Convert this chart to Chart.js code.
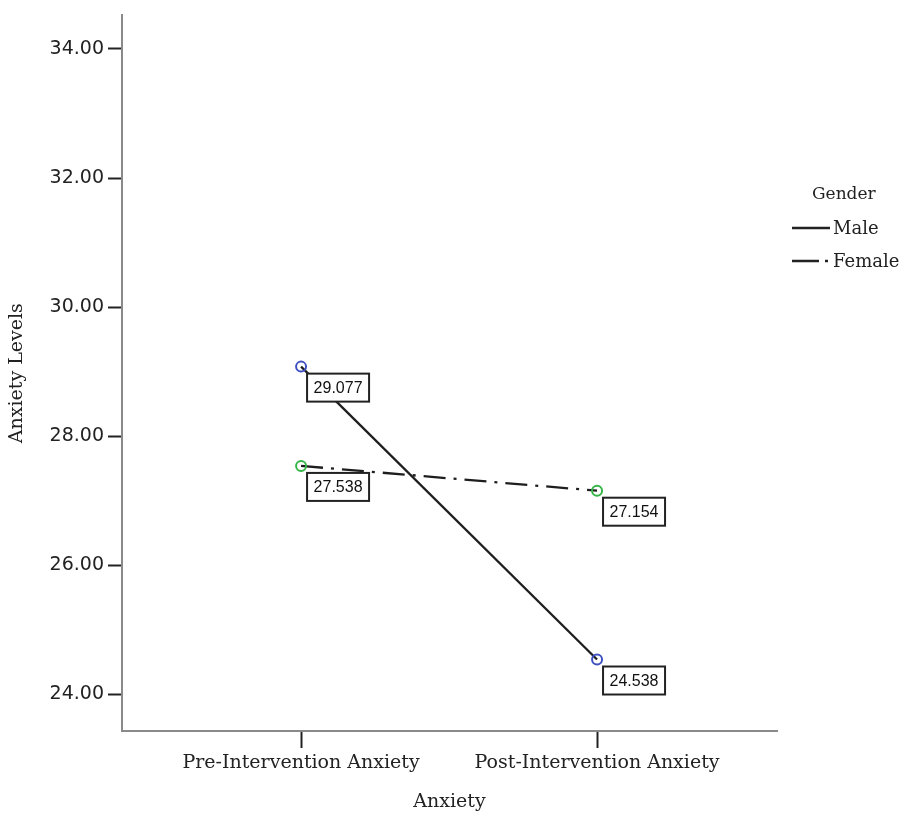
<!DOCTYPE html>
<html>
<head>
<meta charset="utf-8">
<script src="https://cdn.jsdelivr.net/npm/chart.js@4.4.1/dist/chart.umd.min.js"></script>
<style>
  body { margin: 0; background: #fff; }
  #wrap { position: relative; width: 910px; height: 817px; }
  #legend { position: absolute; left: 790px; top: 183px; font-family: 'DejaVu Serif', serif; font-size: 18px; color: #222; }
  #legend .title { margin-left: 22px; margin-bottom: 8px; font-size: 17px; }
  #legend .item { display: flex; align-items: center; height: 33px; }
  #legend svg { margin-right: 3px; }
</style>
</head>
<body>
<div id="wrap">
  <canvas id="chart" width="910" height="817"></canvas>
  <div id="legend">
    <div class="title">Gender</div>
    <div class="item"><svg width="40" height="10"><line x1="2" y1="5" x2="40" y2="5" stroke="#222" stroke-width="2.5"/></svg>Male</div>
    <div class="item"><svg width="40" height="10"><line x1="2" y1="5" x2="40" y2="5" stroke="#222" stroke-width="2.5" stroke-dasharray="27 6 3 20"/></svg>Female</div>
  </div>
</div>
<script>
// values
const categories = ['Pre-Intervention Anxiety', 'Post-Intervention Anxiety'];
const maleValues = [29.077, 24.538];
const femaleValues = [27.538, 27.154];
const yTicks = [24, 26, 28, 30, 32, 34];

// boxed value labels next to each point
const boxLabels = {
  id: 'boxLabels',
  afterDatasetsDraw(chart) {
    const ctx = chart.ctx;
    ctx.save();
    ctx.font = '16px "Liberation Sans", Arial, sans-serif';
    ctx.textAlign = 'center';
    ctx.textBaseline = 'middle';
    chart.data.datasets.forEach((ds, i) => {
      chart.getDatasetMeta(i).data.forEach((pt, j) => {
        const x = pt.x + 6, y = pt.y + 7, w = 62, h = 28;
        ctx.fillStyle = '#fff';
        ctx.fillRect(x, y, w, h);
        ctx.strokeStyle = '#222';
        ctx.lineWidth = 2;
        ctx.strokeRect(x, y, w, h);
        ctx.fillStyle = '#111';
        ctx.fillText(ds.data[j].y.toFixed(3), x + w / 2, y + h / 2 + 1);
      });
    });
    ctx.restore();
  }
};

const toPoints = vals => vals.map((v, i) => ({ x: i, y: v }));

const ctx = document.getElementById('chart').getContext('2d');
const chart = new Chart(ctx, {
  type: 'line',
  data: {
    datasets: [
      {
        label: 'Male',
        data: toPoints(maleValues),
        borderColor: '#1e1e1e',
        borderWidth: 2.3,
        pointRadius: 5,
        pointBorderWidth: 2,
        pointBorderColor: '#3f50c0',
        pointBackgroundColor: 'rgba(0,0,0,0)'
      },
      {
        label: 'Female',
        data: toPoints(femaleValues),
        borderColor: '#1e1e1e',
        borderWidth: 2.3,
        borderDash: [22, 8, 3, 8],
        pointRadius: 5,
        pointBorderWidth: 2,
        pointBorderColor: '#35b548',
        pointBackgroundColor: 'rgba(0,0,0,0)'
      }
    ]
  },
  options: {
    responsive: false,
    animation: false,
    layout: { padding: { left: 0, right: 133, top: 10, bottom: 0 } },
    plugins: {
      legend: { display: false },
      tooltip: { enabled: false }
    },
    scales: {
      x: {
        type: 'linear',
        min: -0.605,
        max: 1.608,
        grid: { display: true, drawOnChartArea: false, drawTicks: true, tickLength: 17, tickWidth: 2, tickColor: '#222' },
        border: { display: true, color: '#8a8a8a', width: 2 },
        afterBuildTicks(scale) { scale.ticks = categories.map((c, i) => ({ value: i })); },
        ticks: {
          color: '#222', padding: 4, maxRotation: 0,
          font: { family: "'DejaVu Serif', serif", size: 19 },
          callback: v => categories[v]
        },
        title: { display: true, text: 'Anxiety', color: '#222', padding: { top: 4, bottom: 4 }, font: { family: "'DejaVu Serif', serif", size: 19 } },
        afterFit(scale) { scale.height = 86; }
      },
      y: {
        min: 23.43,
        max: 34.52,
        grid: { display: true, drawOnChartArea: false, drawTicks: true, tickLength: 14, tickWidth: 2, tickColor: '#222' },
        border: { display: true, color: '#8a8a8a', width: 2 },
        ticks: {
          color: '#222', padding: 4,
          font: { family: "'DejaVu Sans', sans-serif", size: 19 },
          callback: v => v.toFixed(2)
        },
        afterBuildTicks(scale) { scale.ticks = yTicks.map(v => ({ value: v })); },
        title: { display: true, text: 'Anxiety Levels', color: '#222', padding: { top: 6, bottom: 4 }, font: { family: "'DejaVu Serif', serif", size: 19 } },
        afterFit(scale) { scale.width = 122; }
      }
    }
  },
  plugins: [boxLabels]
});
</script>
</body>
</html>
